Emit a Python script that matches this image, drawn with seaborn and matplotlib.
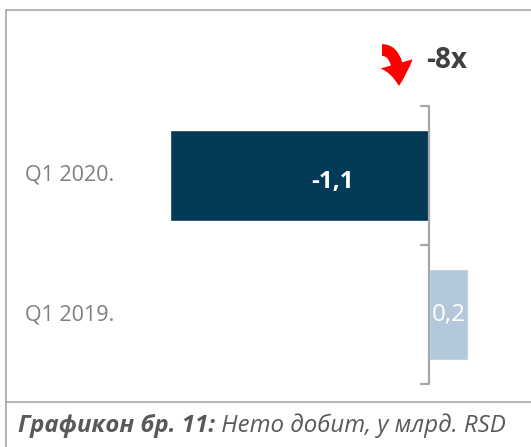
import matplotlib
matplotlib.use("Agg")
import matplotlib.pyplot as plt
from matplotlib.lines import Line2D
import seaborn as sns
import pandas as pd

# data
periods = ["Q1 2020.", "Q1 2019."]
net_profit = [-1.1, 0.166]          # bn RSD
value_labels = ["-1,1", "0,2"]
bar_colors = ["#033A57", "#B3C8DB"]
change_label = "-8x"
caption_bold = "Графикон бр. 11:"
caption_rest = " Нето добит, у млрд. RSD"

df = pd.DataFrame({"period": periods, "profit": net_profit})

sns.set_theme(style="white")
plt.rcParams["font.family"] = ["Open Sans", "DejaVu Sans"]

W, H = 531, 447
fig = plt.figure(figsize=(W / 100, H / 100), dpi=100)
fig.patch.set_facecolor("white")

# axes: spine at x=429px, from y=106px to y=384px
left_px, right_px = 20, 510
zero_px = 429
ppu = 235.5
ax = fig.add_axes([left_px / W, 1 - 384 / H, (right_px - left_px) / W, (384 - 106) / H])
ax.set_facecolor("none")

sns.barplot(data=df, y="period", x="profit", hue="period", palette=bar_colors,
            orient="h", width=0.66, legend=False, ax=ax, saturation=1)

ax.set_xlim(-(zero_px - left_px) / ppu, (right_px - zero_px) / ppu)
ax.set_ylim(1.5, -0.5)
ax.set_xlabel("")
ax.set_ylabel("")
ax.set_xticks([])
ax.set_yticks([])

for s in ["top", "right", "bottom", "left"]:
    ax.spines[s].set_visible(False)
ax.axvline(0, color="#A6A6A6", lw=1.6, zorder=3)

# boundary ticks pointing left
for yb in [-0.5, 0.5, 1.5]:
    ax.plot([-8 / ppu, 0], [yb, yb], color="#A6A6A6", lw=1.6, clip_on=False, zorder=3)

# category labels on the far left
offset = (25 - zero_px) / ppu
for i, p in enumerate(periods):
    ax.text(offset, i, p, ha="left", va="center", fontsize=15.5, color="#7F7F7F")

# value labels
ax.text(-0.41, 0.05, value_labels[0], ha="center", va="center", fontsize=17.5,
        fontweight="bold", color="white")
ax.text(net_profit[1] / 2, 1.0, value_labels[1], ha="center", va="center", fontsize=17.5,
        color="white")

# change annotation with curved red arrow
fig.text(426 / W, 1 - 60 / H, change_label, ha="left", va="center", fontsize=20,
         fontweight="bold", color="#404040")
ax.annotate("", xy=(399 / W, 1 - 86 / H), xycoords="figure fraction",
            xytext=(382 / W, 1 - 50 / H), textcoords="figure fraction",
            arrowprops=dict(arrowstyle="simple,head_width=1.2,head_length=0.8,tail_width=0.42",
                            connectionstyle="angle3,angleA=0,angleB=90", color="#FF0000", lw=0,
                            mutation_scale=20, shrinkA=0, shrinkB=0))

# frame lines
fc = "#A6A6A6"
fig.add_artist(Line2D([6 / W, 1], [1 - 10 / H, 1 - 10 / H], color=fc, lw=1.2))
fig.add_artist(Line2D([6 / W, 6 / W], [0, 1 - 10 / H], color=fc, lw=1.2))
fig.add_artist(Line2D([6 / W, 1], [1 - 402 / H, 1 - 402 / H], color=fc, lw=1.2))

# caption
t1 = fig.text(18 / W, 1 - 426 / H, caption_bold, ha="left", va="center", fontsize=17.3,
              fontweight="bold", fontstyle="italic", color="#595959")
fig.canvas.draw()
bb = t1.get_window_extent()
fig.text(bb.x1 / W, 1 - 426 / H, caption_rest, ha="left", va="center", fontsize=17.3,
         fontstyle="italic", color="#595959")

fig.savefig("out.png", dpi=100, facecolor="white")
